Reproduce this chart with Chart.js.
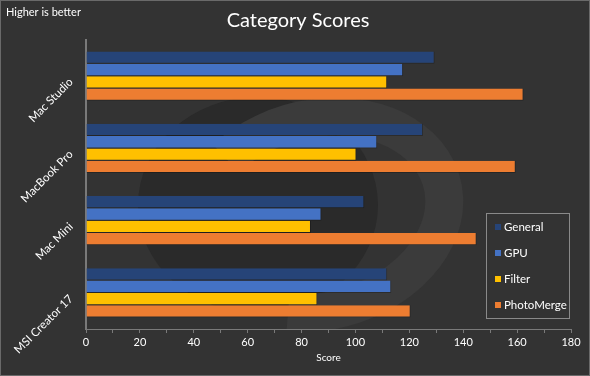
<!DOCTYPE html>
<html>
<head>
<meta charset="utf-8">
<script src="https://cdn.jsdelivr.net/npm/chart.js@4/dist/chart.umd.min.js"></script>
<style>
  html, body { margin: 0; padding: 0; background: #333333; }
  #wrap { width: 588px; height: 374px; border: 1px solid #6a6a6a; background: #333333; }
  canvas { display: block; }
</style>
</head>
<body>
<div id="wrap"><canvas id="c" width="588" height="374"></canvas></div>
<script>
const categories = ["Mac Studio", "MacBook Pro", "Mac Mini", "MSI Creator 17"];
const generalScores = [129.4, 125.1, 103.3, 111.8];
const gpuScores = [117.7, 108.1, 87.4, 113.3];
const filterScores = [111.8, 100.4, 83.5, 85.9];
const photoMergeScores = [162.4, 159.5, 145.0, 120.5];
const seriesNames = ["General", "GPU", "Filter", "PhotoMerge"];
const seriesColors = ["#264478", "#4472C4", "#FFC000", "#ED7D31"];
const xTicks = [0, 20, 40, 60, 80, 100, 120, 140, 160, 180];
const chartTitle = "Category Scores";
const note = "Higher is better";

const FONT = "Lato, 'Open Sans', sans-serif";
const seriesData = [generalScores, gpuScores, filterScores, photoMergeScores];

const watermark = {
  id: 'watermark',
  beforeDatasetsDraw(chart) {
    const ctx = chart.ctx;
    const a = chart.chartArea;
    ctx.save();
    ctx.beginPath();
    ctx.rect(a.left, a.top, a.right - a.left, a.bottom - a.top);
    ctx.clip();
    ctx.fillStyle = '#2a2a2a';
    ctx.beginPath();
    ctx.ellipse(257, 204, 120, 108, 0, 0, Math.PI * 2);
    ctx.fill();
    ctx.strokeStyle = '#3b3b3b';
    ctx.lineWidth = 38;
    ctx.beginPath();
    ctx.ellipse(317, 214, 128, 96, -0.25, -2.2, 2.0);
    ctx.stroke();
    ctx.restore();
  }
};

const extras = {
  id: 'extras',
  afterDraw(chart) {
    const ctx = chart.ctx;
    const y = chart.scales.y;
    ctx.save();
    ctx.fillStyle = '#ffffff';
    ctx.textBaseline = 'middle';
    ctx.font = '20px ' + FONT;
    ctx.textAlign = 'center';
    ctx.fillText(chartTitle, 297, 20);
    ctx.font = '11px ' + FONT;
    ctx.textAlign = 'left';
    ctx.fillText(note, 5, 11);
    // rotated category labels
    categories.forEach((lab, i) => {
      const py = y.getPixelForValue(i);
      ctx.save();
      ctx.translate(70, py + 4);
      ctx.rotate(-Math.PI / 4);
      ctx.textAlign = 'right';
      ctx.textBaseline = 'middle';
      ctx.font = '11.5px ' + FONT;
      ctx.fillText(lab, 0, 0);
      ctx.restore();
    });
    // legend box
    const lx = 485, ly = 212, lw = 83, lh = 105;
    ctx.strokeStyle = '#8a8a8a';
    ctx.lineWidth = 1;
    ctx.strokeRect(lx + 0.5, ly + 0.5, lw, lh);
    ctx.font = '11.5px ' + FONT;
    chart.data.datasets.forEach((ds, i) => {
      const cy = ly + 14 + i * 26;
      ctx.fillStyle = ds.backgroundColor;
      ctx.fillRect(lx + 9, cy - 3, 6, 6);
      ctx.fillStyle = '#ffffff';
      ctx.textAlign = 'left';
      ctx.fillText(ds.label, lx + 18, cy);
    });
    ctx.restore();
  }
};

new Chart(document.getElementById('c'), {
  type: 'bar',
  data: {
    labels: categories,
    datasets: seriesNames.map((name, i) => ({
      label: name,
      data: seriesData[i],
      backgroundColor: seriesColors[i],
      borderColor: 'rgba(0,0,0,0.25)',
      borderWidth: { right: 1, bottom: 1, top: 0, left: 0 },
      borderSkipped: 'left',
      categoryPercentage: 0.68,
      barPercentage: 1.0
    }))
  },
  options: {
    indexAxis: 'y',
    responsive: false,
    animation: false,
    layout: { padding: { left: 0, right: 18, top: 39, bottom: 0 } },
    plugins: {
      legend: { display: false },
      tooltip: { enabled: false },
      title: { display: false }
    },
    scales: {
      x: {
        min: 0, max: 180,
        ticks: {
          stepSize: 10,
          autoSkip: false,
          maxRotation: 0,
          color: '#ffffff',
          font: { family: FONT, size: 11 },
          padding: 3,
          callback: (v) => xTicks.includes(v) ? String(v) : ''
        },
        grid: { drawOnChartArea: false, drawTicks: true, tickLength: 4, color: '#7a7a7a' },
        border: { display: true, color: '#7a7a7a', width: 1 },
        title: {
          display: true,
          text: 'Score',
          color: '#ffffff',
          font: { family: FONT, size: 10 },
          padding: { top: 2, bottom: 11 }
        },
        afterFit: (s) => { s.height = 46; }
      },
      y: {
        ticks: { display: false },
        grid: { display: false },
        border: { display: true, color: '#7a7a7a', width: 2 },
        afterFit: (s) => { s.width = 85; }
      }
    }
  },
  plugins: [watermark, extras]
});
</script>
</body>
</html>
